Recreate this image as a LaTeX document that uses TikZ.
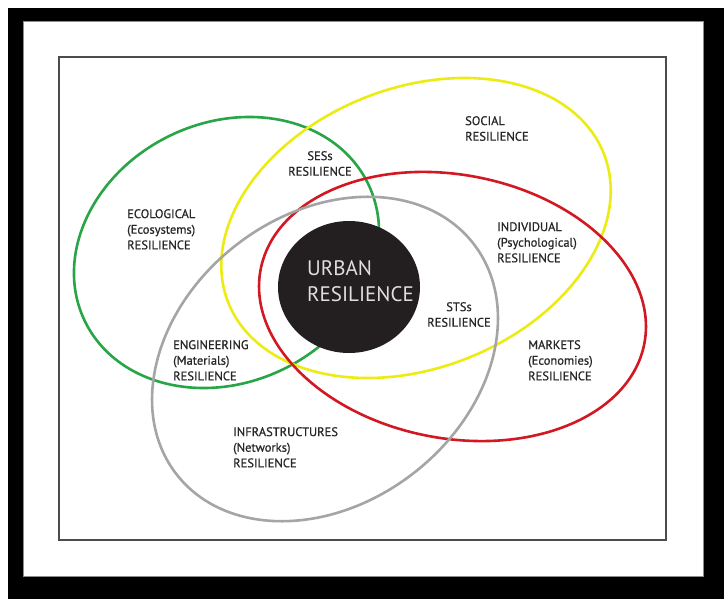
\documentclass[tikz,border=0pt]{standalone}
\usepackage{fontspec}
\newfontfamily\labfont[FakeBold=0.6]{PT Sans}
\newfontfamily\corefont{PT Sans}
\usetikzlibrary{shapes.geometric}
\definecolor{egreen}{RGB}{40,165,70}
\definecolor{eyellow}{RGB}{236,236,20}
\definecolor{ered}{RGB}{210,25,35}
\definecolor{egray}{RGB}{165,165,165}
\definecolor{txt}{RGB}{40,38,38}
\definecolor{core}{RGB}{35,31,32}
\definecolor{coretxt}{RGB}{225,222,222}
\tikzset{
  ring/.style={line width=2.6pt},
  lab/.style={inner sep=0pt, anchor=north west, align=left, text=txt,
    font=\labfont\fontsize{12.5}{15.6}\selectfont},
  labc/.style={lab, align=center, anchor=north},
}
\begin{document}
\begin{tikzpicture}[x=1pt,y=-1pt]
\useasboundingbox (0,0) rectangle (724,599);
% frame
\fill[black] (8,8) rectangle (724,599);
\fill[white, draw=black!45, line width=0.8pt] (23,21) rectangle (703,576);
\draw[black!70, line width=1.2pt] (59,57) rectangle (666,540);
% rings
\draw[ring, egreen, rotate around={25.9:(226.5,252.5)}] (226.5,252.5) ellipse [x radius=157.4, y radius=129.8];
\draw[ring, eyellow, rotate around={21.7:(416,228)}] (416,228) ellipse [x radius=202, y radius=140];
\draw[ring, ered, rotate around={-11:(452.5,306.5)}] (452.5,306.5) ellipse [x radius=195.4, y radius=131.7];
\draw[ring, egray, rotate around={37.8:(325,359)}] (325,359) ellipse [x radius=188, y radius=144.5];
% core
\node[ellipse, fill=core, minimum width=142pt, minimum height=132pt, inner sep=0pt] (urban) at (349,287) {};
\node[anchor=north west, inner sep=0pt, align=left, text=coretxt,
  font=\corefont\fontsize{21}{26}\selectfont] (urbantxt) at (307,260) {URBAN\\RESILIENCE};
% labels
\node[labc] (ses) at (320,151) {SESs\\RESILIENCE};
\node[lab] (social) at (465,116) {SOCIAL\\RESILIENCE};
\node[lab] (eco) at (127,209) {ECOLOGICAL\\(Ecosystems)\\RESILIENCE};
\node[lab] (indiv) at (497,222) {INDIVIDUAL\\(Psychological)\\RESILIENCE};
\node[labc] (sts) at (459,302) {STSs\\RESILIENCE};
\node[lab] (eng) at (173,340) {ENGINEERING\\(Materials)\\RESILIENCE};
\node[lab] (mkt) at (528,340) {MARKETS\\(Economies)\\RESILIENCE};
\node[lab] (infra) at (233,427) {INFRASTRUCTURES\\(Networks)\\RESILIENCE};
\end{tikzpicture}
\end{document}
